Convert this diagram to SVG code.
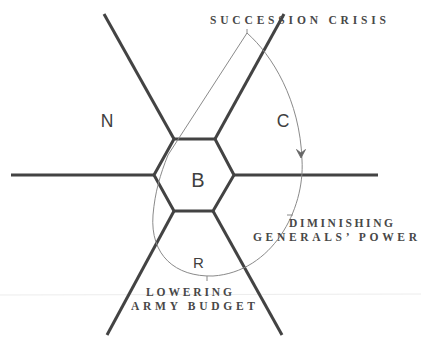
<svg xmlns="http://www.w3.org/2000/svg" width="421" height="338" viewBox="0 0 421 338">
<style>
.thick{stroke:#434343;stroke-width:3;fill:none;stroke-linejoin:miter;stroke-linecap:butt}
.thin{stroke:#8a8a8a;stroke-width:1;fill:none}
.lbl{font-family:"Liberation Sans",Arial,sans-serif;fill:#404040;text-anchor:middle}
.cap{font-family:"Liberation Serif","Times New Roman",serif;font-weight:bold;font-size:11.5px;fill:#484848}
</style>
<rect width="421" height="338" fill="#ffffff"/>
<line x1="0" y1="295" x2="421" y2="294" stroke="#ececec" stroke-width="1"/>
<g id="spokes">
<path class="thick" d="M104,14 L174,139"/>
<path class="thick" d="M284,14 L215,139"/>
<path class="thick" d="M11,175 L154,175"/>
<path class="thick" d="M234,175 L378,175"/>
<path class="thick" d="M174,211 L107,335"/>
<path class="thick" d="M213,211 L282,335"/>
</g>
<g id="node-B">
<polygon class="thick" points="174,139 215,139 234,175 213,211 174,211 154,175"/>
<text class="lbl" x="198" y="187" font-size="20">B</text>
</g>
<g id="node-N"><text class="lbl" x="107" y="127" font-size="17.5">N</text></g>
<g id="node-C"><text class="lbl" x="283" y="127" font-size="17.5">C</text></g>
<g id="node-R"><text class="lbl" x="198.5" y="268" font-size="15">R</text></g>
<g id="connectors">
<path class="thin" d="M247,33 C272,55 300,100 302,160 C305,210 272,272 213,276 C175,277 150,255 153,215 C155,192 160,175 168,155 L247,33"/>
<path d="M301,158 L296.5,149.5 L301,153 L305.5,149.5 Z" fill="#666" stroke="#666" stroke-width="0.8" stroke-linejoin="miter"/>
<line class="thin" x1="247" y1="29" x2="247" y2="34"/>
<line class="thin" x1="207" y1="276" x2="207" y2="281"/>
<line class="thin" x1="287" y1="215" x2="293" y2="215"/>
</g>
<g id="labels">
<text class="cap" x="210" y="24" textLength="176" lengthAdjust="spacing">SUCCESSION CRISIS</text>
<text class="cap" x="289" y="227" textLength="104" lengthAdjust="spacing">DIMINISHING</text>
<text class="cap" x="253" y="241" textLength="164" lengthAdjust="spacing">GENERALS’ POWER</text>
<text class="cap" x="146" y="296" textLength="86" lengthAdjust="spacing">LOWERING</text>
<text class="cap" x="131" y="310" textLength="124" lengthAdjust="spacing">ARMY BUDGET</text>
</g>
</svg>
